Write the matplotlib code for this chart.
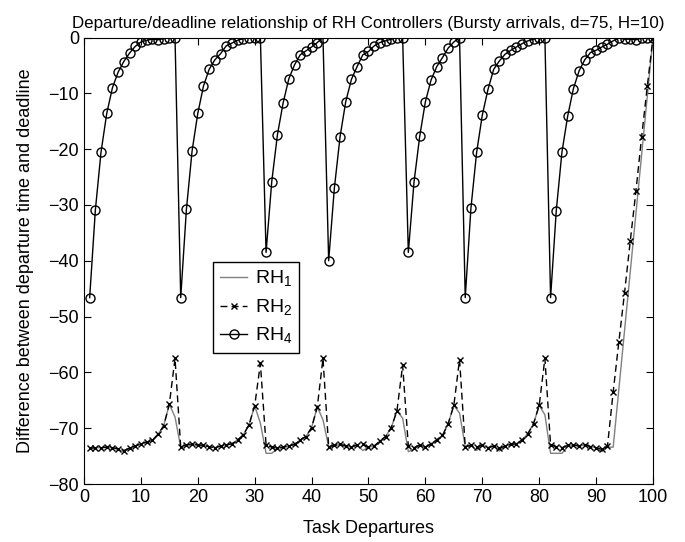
import numpy as np
import matplotlib
matplotlib.use('Agg')
import matplotlib.pyplot as plt

plt.rcParams['font.family'] = ['Liberation Sans', 'DejaVu Sans']
plt.rcParams['mathtext.fontset'] = 'custom'
plt.rcParams['mathtext.rm'] = 'Liberation Sans'

departures = np.arange(1, 101)

rh4 = [-46.6, -30.9, -20.5, -13.6, -9.0, -6.2, -4.3, -2.8, -1.6, -0.8,
       -0.5, -0.3, -0.4, -0.2, 0.0, 0.0,
       -46.6, -30.8, -20.3, -13.6, -8.7, -5.7, -4.0, -2.9, -1.5, -1.0,
       -0.5, -0.2, 0.0, 0.0, 0.0,
       -38.5, -25.8, -17.4, -11.7, -7.4, -4.9, -3.1, -2.4, -1.7, -0.9, 0.0,
       -40.0, -27.0, -17.8, -11.5, -7.5, -5.2, -3.1, -2.5, -1.5, -0.9,
       -0.6, -0.3, 0.0, 0.0,
       -38.5, -25.9, -17.7, -11.5, -7.6, -5.2, -3.6, -1.9, -0.8, 0.0,
       -46.6, -30.6, -20.6, -13.9, -9.3, -5.7, -4.2, -3.0, -2.3, -1.7,
       -1.1, -0.6, -0.3, 0.0, 0.0,
       -46.6, -31.0, -20.5, -14.1, -9.2, -6.0, -4.0, -2.7, -2.3, -1.7,
       -1.2, -0.6, -0.1, -0.3, -0.3, -0.4, -0.1, 0.0, 0.0]

rh2 = [-73.6, -73.5, -73.5, -73.4, -73.5, -73.7, -74.0, -73.6, -73.2, -72.8,
       -72.5, -72.2, -71.1, -69.6, -65.7, -57.5,
       -73.4, -73.0, -72.9, -73.0, -73.1, -73.3, -73.5, -73.2, -73.0, -72.8,
       -72.1, -71.2, -69.4, -66.0, -58.4,
       -73.0, -73.4, -73.6, -73.4, -73.2, -72.9, -72.1, -71.5, -69.9, -66.2, -57.5,
       -73.3, -73.1, -72.9, -73.2, -73.4, -73.0, -72.9, -73.4, -73.2, -72.3,
       -71.5, -69.9, -66.9, -58.7,
       -73.2, -73.5, -73.0, -73.4, -72.8, -72.1, -71.3, -69.2, -65.9, -57.7,
       -73.3, -73.1, -73.4, -73.0, -73.5, -73.2, -73.6, -73.2, -72.9, -72.8,
       -72.1, -71.0, -69.2, -65.9, -57.5,
       -73.0, -73.3, -73.5, -73.1, -73.0, -73.2, -73.0, -73.3, -73.5, -73.8,
       -73.2, -63.5, -54.5, -45.7, -36.5, -27.5, -17.8, -8.7, 0.0]

rh1 = [-73.6, -73.5, -73.5, -73.4, -73.5, -73.8, -74.2, -73.6, -73.2, -72.8,
       -72.5, -72.2, -71.1, -69.6, -65.7, -68.0,
       -73.4, -73.0, -72.9, -73.0, -73.1, -73.3, -73.5, -73.2, -73.0, -72.8,
       -72.1, -71.2, -69.4, -66.0, -69.1,
       -74.5, -74.5, -73.6, -73.4, -73.2, -72.9, -72.1, -71.5, -69.9, -66.2, -68.5,
       -73.3, -73.1, -72.9, -73.2, -73.4, -73.0, -74.0, -73.4, -73.2, -72.3,
       -71.5, -69.9, -66.9, -68.2,
       -74.2, -73.8, -73.0, -73.4, -72.8, -72.1, -71.3, -69.2, -65.9, -67.3,
       -73.3, -73.1, -74.0, -73.0, -73.5, -73.2, -74.1, -73.2, -72.9, -72.8,
       -72.1, -71.0, -69.2, -65.9, -67.6,
       -74.5, -74.5, -74.5, -73.3, -73.0, -73.2, -73.0, -73.3, -73.5, -74.2,
       -73.4, -73.4, -63.0, -52.5, -42.0, -31.5, -21.0, -10.5, 0.0]

fig = plt.figure(figsize=(6.85, 5.42), dpi=100)
ax = fig.add_axes([0.1226, 0.107, 0.8307, 0.8238])

ax.plot(departures, rh1, '-', color='#808080', lw=1.0, label=r'RH$_{\mathregular{1}}$')
ax.plot(departures, rh2, color='black', lw=1.0, linestyle=(0, (5, 3)), marker='x',
        markersize=5, markeredgewidth=1.0, label=r'RH$_{\mathregular{2}}$')
ax.plot(departures, rh4, '-', color='black', lw=1.0, marker='o', markersize=6.5,
        markerfacecolor='none', markeredgewidth=1.0, label=r'RH$_{\mathregular{4}}$')

ax.set_xlim(0, 100)
ax.set_ylim(-80, 0)
ax.set_xticks(range(0, 101, 10))
ax.set_yticks(range(-80, 1, 10))
ax.tick_params(direction='in', top=True, right=True, length=5, labelsize=13)

ax.set_title('Departure/deadline relationship of RH Controllers (Bursty arrivals, d=75, H=10)',
             fontsize=12.2, pad=7)
ax.set_xlabel('Task Departures', fontsize=13, labelpad=10)
ax.set_ylabel('Difference between departure time and deadline', fontsize=13, labelpad=10)

leg = ax.legend(loc='upper left', bbox_to_anchor=(0.227, 0.497), fontsize=14,
                fancybox=False, framealpha=1, edgecolor='black', handlelength=1.4,
                borderpad=0.35, labelspacing=0.42, handletextpad=0.4, borderaxespad=0)
leg.get_frame().set_linewidth(1.0)

fig.savefig('out.png', dpi=100)
